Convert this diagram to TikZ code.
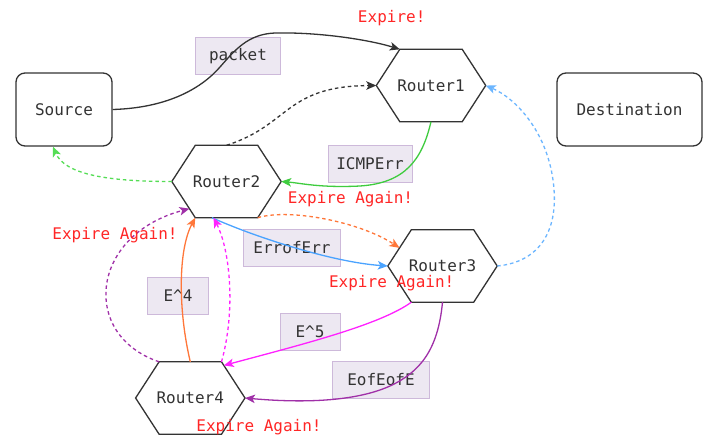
\documentclass[tikz,border=0pt]{standalone}
\usepackage{fontspec}
\setmonofont{DejaVu Sans Mono}
\usetikzlibrary{arrows.meta,calc}
\definecolor{ink}{HTML}{333333}
\definecolor{lblfill}{HTML}{EDE8F2}
\definecolor{lbldraw}{HTML}{CDB9DA}
\definecolor{warnred}{HTML}{FF2626}
\definecolor{okgreen}{HTML}{3FCC3F}
\definecolor{okgreenlt}{HTML}{55DD55}
\definecolor{skyblue}{HTML}{4AA3FF}
\definecolor{skybluelt}{HTML}{6CB6FF}
\definecolor{tangerine}{HTML}{FF773A}
\definecolor{hotpink}{HTML}{FF22FF}
\definecolor{plum}{HTML}{A030A8}
\begin{document}
\begin{tikzpicture}[x=1pt,y=-1pt,
  every node/.style={font=\ttfamily\fontsize{16}{19}\selectfont, text=ink},
  boxnode/.style={draw=ink, line width=1.3pt, rounded corners=9pt, minimum height=73pt, inner sep=0pt},
  hexnode/.style={minimum width=109pt, minimum height=72pt, inner sep=0pt},
  hexline/.style={draw=ink, line width=1.3pt, line join=miter},
  elabel/.style={fill=lblfill, draw=lbldraw, line width=0.8pt, minimum height=37pt, inner sep=0pt},
  warn/.style={text=warnred},
  link/.style={line width=1.3pt, -{Stealth[length=10pt,width=8.5pt,inset=2.5pt]}},
  dashlink/.style={link, dash pattern=on 3.5pt off 3pt},
]
% canvas
\fill[white] (0,0) rectangle (708,439);
\useasboundingbox (0,0) rectangle (708,439);

% end hosts
\node[boxnode, minimum width=96pt] (src) at (64,109.5) {Source};
\node[boxnode, minimum width=145pt] (dst) at (629.5,109.5) {Destination};

% routers: invisible boxes carrying the labels, hexagon outlines drawn below
\node[hexnode] (r1) at (431,85.5) {Router1};
\node[hexnode] (r2) at (226.5,181.5) {Router2};
\node[hexnode] (r3) at (442.5,266) {Router3};
\node[hexnode] (r4) at (190.3,398) {Router4};

\foreach \n in {r1,r2,r3,r4}{
  \coordinate (\n-nw) at ([xshift=23.5pt]\n.north west);
  \coordinate (\n-ne) at ([xshift=-23.5pt]\n.north east);
  \coordinate (\n-sw) at ([xshift=23.5pt]\n.south west);
  \coordinate (\n-se) at ([xshift=-23.5pt]\n.south east);
  \draw[hexline] (\n.west) -- (\n-nw) -- (\n-ne) -- (\n.east) -- (\n-se) -- (\n-sw) -- cycle;
}

% edge labels
\node[elabel, minimum width=85pt] (lpacket) at (238,55.7) {packet};
\node[elabel, minimum width=84pt] (licmp) at (370,163.7) {ICMPErr};
\node[elabel, minimum width=97pt] (lerr) at (292,247.7) {ErrofErr};
\node[elabel, minimum width=61pt] (le4) at (178,296) {E\^{}4};
\node[elabel, minimum width=60pt] (le5) at (310,332) {E\^{}5};
\node[elabel, minimum width=97pt] (leof) at (381,380) {EofEofE};

% connectors
\draw[link, color=ink] (src.east) .. controls (165,108) and (200,90) .. (220,67)
  .. controls (235,50) and (248,34) .. (275,33)
  .. controls (320,32) and (370,40) .. (r1-nw);
\draw[dashlink, color=ink] (r2.north) .. controls (290,125) and (285,86) .. (r1.west);
\draw[link, color=okgreen] (r1.south) .. controls (422,160) and (405,183) .. (360,186)
  .. controls (320,188) and (300,183) .. (r2.east);
\draw[dashlink, color=okgreenlt] (r2.west) .. controls (110,181.5) and (65,175) .. ([xshift=-11pt]src.south);
\draw[link, color=skyblue] ([xshift=-14.5pt]r2.south) .. controls (250,235) and (330,262) .. (r3.west);
\draw[dashlink, color=tangerine] (r2-se) .. controls (290,208) and (360,222) .. ($(r3.west)!0.5!(r3-nw)$);
\draw[dashlink, color=skybluelt] (r3.east) .. controls (540,262) and (560,230) .. (553,180)
  .. controls (546,130) and (515,98) .. (r1.east);
\draw[link, color=tangerine] (r4.north) .. controls (178,310) and (178,250) .. (r2-sw);
\draw[dashlink, color=hotpink] (r4-ne) .. controls (236,310) and (230,250) .. ([xshift=-13pt]r2.south);
\draw[dashlink, color=plum] (r4-nw) .. controls (80,335) and (90,235) .. ($(r2.west)!0.75!(r2-sw)$);
\draw[link, color=hotpink] (r3-sw) .. controls (380,325) and (300,345) .. ($(r4.east)!0.9!(r4-ne)$);
\draw[link, color=plum] (r3.south) .. controls (438,350) and (420,372) .. (390,386)
  .. controls (350,404) and (290,402) .. (r4.east);

% expiry notes
\node[warn] (x1) at (391.7,18) {Expire!};
\node[warn] (x2) at (350.5,199.5) {Expire Again!};
\node[warn] (x3) at (115,235.5) {Expire Again!};
\node[warn] (x4) at (391.7,283.5) {Expire Again!};
\node[warn] (x5) at (259,427.5) {Expire Again!};
\end{tikzpicture}
\end{document}
